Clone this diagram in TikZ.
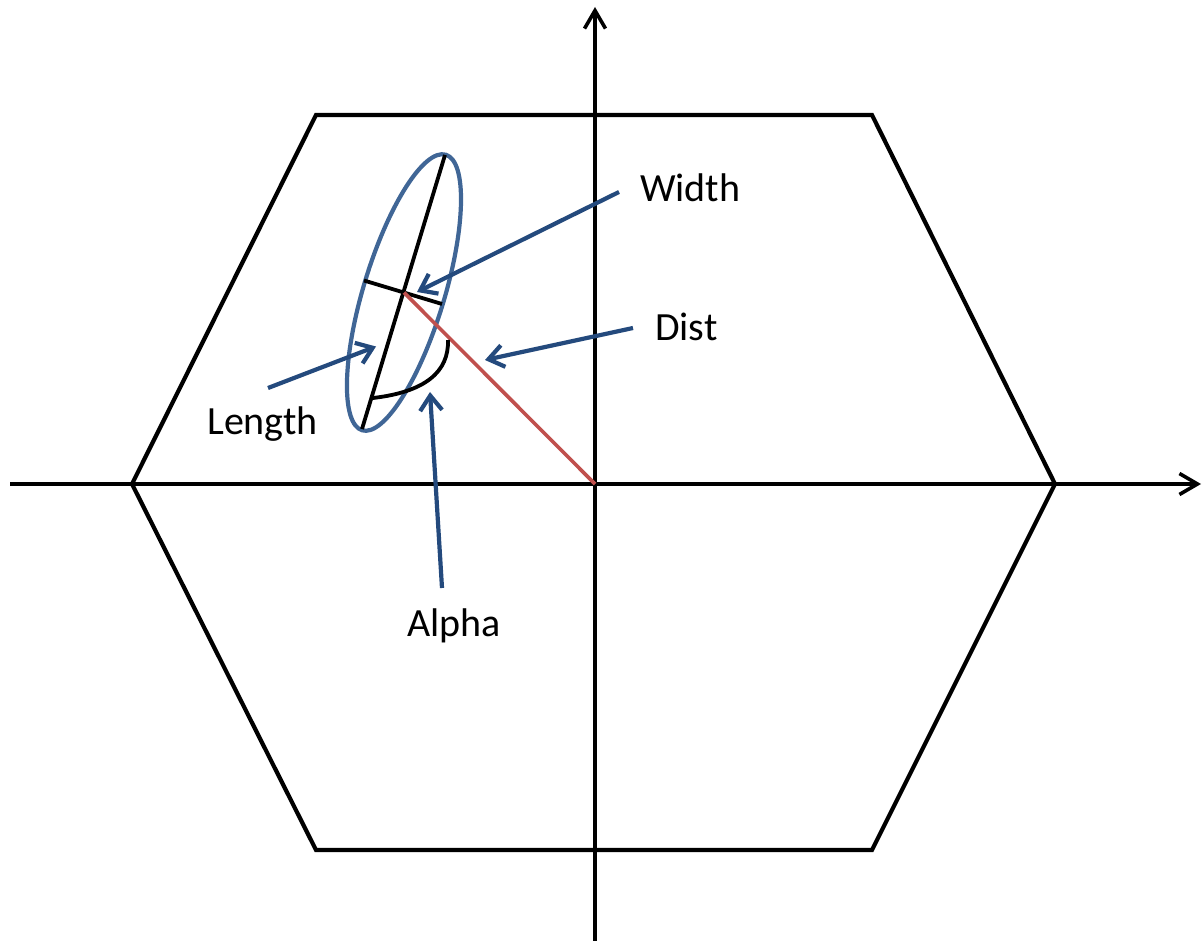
\documentclass[tikz,border=0pt]{standalone}
\usepackage{fontspec}
\setmainfont{Carlito}
\usetikzlibrary{arrows.meta}
\definecolor{ellblue}{RGB}{64,102,150}
\definecolor{arrblue}{RGB}{36,74,125}
\definecolor{distred}{RGB}{192,80,77}
\tikzset{
  axisline/.style={line width=3.6pt, black, -{Straight Barb[length=18pt,width=21pt]}},
  hexline/.style={line width=4.2pt, black, line join=miter},
  pointer/.style={line width=4.2pt, arrblue, -{Straight Barb[length=15pt,width=22pt]}},
  lbl/.style={font=\fontsize{40}{48}\selectfont, inner sep=0pt, anchor=base west},
}
\begin{document}
\begin{tikzpicture}[x=1pt,y=-1pt]
\path[use as bounding box] (0,0) rectangle (1203,941);
% axes
\coordinate (xs) at (10,484);
\coordinate (xe) at (1201,484);
\coordinate (ys) at (595,941);
\coordinate (ye) at (595,7);
\coordinate (O) at (595,484);
\draw[hexline] (316,115) -- (872,115) -- (1055,484) -- (872,850) -- (316,850) -- (132,484) -- cycle;
\draw[axisline] (xs) -- (xe);
\draw[axisline] (ys) -- (ye);
% ellipse
\coordinate (C) at (404,292.5);
\coordinate (Mt) at (445,155);
\coordinate (Mb) at (362,429);
\coordinate (Wl) at (364,280.5);
\coordinate (Wr) at (442,304);
\draw[ellblue, line width=4.2pt, rotate around={73.1:(C)}] (C) ellipse [x radius=144pt, y radius=40.5pt];
\draw[line width=3.8pt, black] (Mt) -- (Mb);
\draw[line width=3.8pt, black] (Wl) -- (Wr);
\draw[line width=3.6pt, distred] (C) -- (O);
% alpha arc
\coordinate (As) at (448,340);
\coordinate (Ae) at (373,398);
\draw[line width=3.8pt, black] (As) .. controls (449,372) and (425,392) .. (Ae);
% labels
\node[lbl] (width) at (640,202) {Width};
\node[lbl] (dist) at (655,340.5) {Dist};
\node[lbl] (length) at (207,435) {Length};
\node[lbl] (alpha) at (407,636) {Alpha};
% pointers
\coordinate (wt) at (619,192);
\coordinate (wh) at (417,292);
\coordinate (dt) at (633,328);
\coordinate (dh) at (485,360);
\coordinate (lt) at (268,388);
\coordinate (lh) at (376,346.5);
\coordinate (at) at (442,588);
\coordinate (ah) at (430,392);
\draw[pointer] (wt) -- (wh);
\draw[pointer] (dt) -- (dh);
\draw[pointer] (lt) -- (lh);
\draw[pointer] (at) -- (ah);
\end{tikzpicture}
\end{document}
